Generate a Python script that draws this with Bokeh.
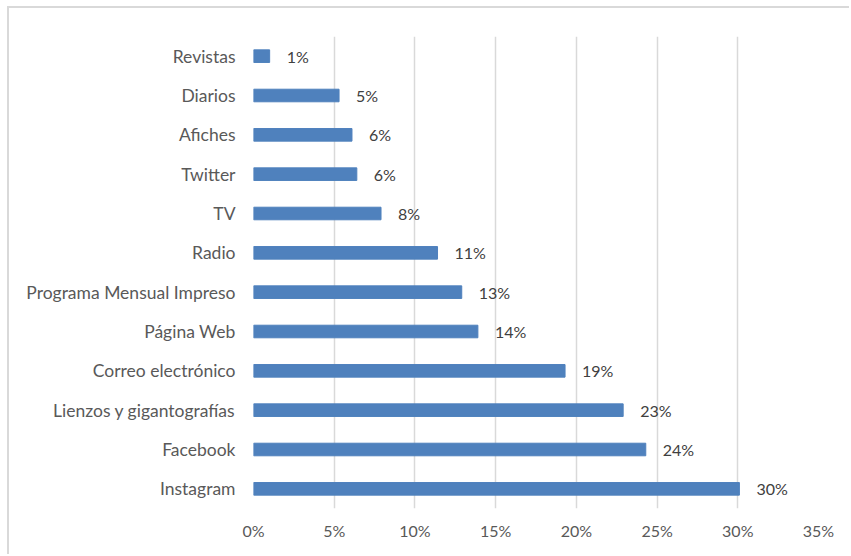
from bokeh.plotting import figure
from bokeh.models import ColumnDataSource, FactorRange, NumeralTickFormatter, FixedTicker, LabelSet
from bokeh.core.properties import value
from bokeh.embed import file_html
from bokeh.resources import INLINE

categories = ["Revistas", "Diarios", "Afiches", "Twitter", "TV", "Radio",
              "Programa Mensual Impreso", "Página Web", "Correo electrónico",
              "Lienzos y gigantografías", "Facebook", "Instagram"]
values = [0.010, 0.053, 0.061, 0.064, 0.079, 0.114, 0.129, 0.139, 0.193, 0.229, 0.243, 0.301]
tick_values = [0, 0.05, 0.10, 0.15, 0.20, 0.25, 0.30, 0.35]

labels = [f"{round(v * 100)}%" for v in values]
src = ColumnDataSource(dict(cat=categories, val=values, lab=labels))

p = figure(width=842, height=548, output_backend="svg", toolbar_location=None,
           y_range=FactorRange(factors=list(reversed(categories)), range_padding=0),
           x_range=(0, 0.35), min_border_left=244, min_border_right=33,
           min_border_top=28, min_border_bottom=48)
p.styles = {"border-left": "2px solid #d9d9d9", "border-top": "2px solid #d9d9d9",
            "margin-left": "7px", "margin-top": "6px"}
p.outline_line_color = None
p.background_fill_color = "white"

p.hbar(y="cat", right="val", left=0, height=0.32, color="#4F81BD", source=src)

p.add_layout(LabelSet(x="val", y="cat", text="lab", source=src, x_offset=17,
                      text_baseline="middle", text_font=value("Lato"),
                      text_font_size="16px", text_color="#404040"))

p.xaxis.ticker = FixedTicker(ticks=tick_values)
p.xaxis.formatter = NumeralTickFormatter(format="0%")
for ax in (p.xaxis, p.yaxis):
    ax.axis_line_color = None
    ax.major_tick_line_color = None
    ax.minor_tick_line_color = None
    ax.major_label_text_font = "Lato"
    ax.major_label_text_color = "#595959"
p.yaxis.major_label_text_font_size = "17.5px"
p.xaxis.major_label_text_font_size = "16px"
p.yaxis.major_label_standoff = 12
p.xaxis.major_label_standoff = 6

p.ygrid.grid_line_color = None
p.xgrid.grid_line_color = "#D9D9D9"
p.xgrid.grid_line_width = 1.5

open("out.html", "w").write(file_html(p, INLINE))
